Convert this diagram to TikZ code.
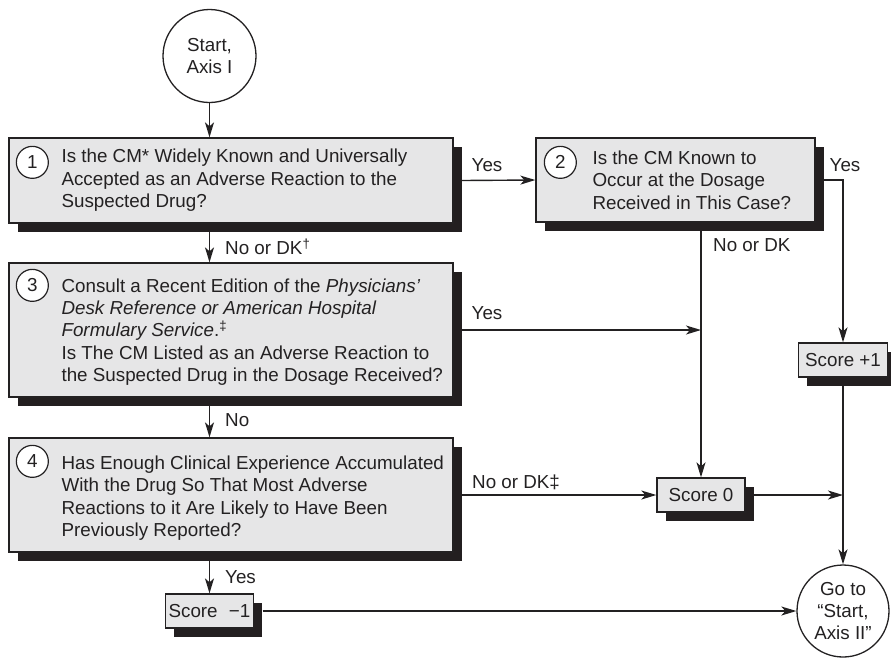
\documentclass[tikz,border=0pt]{standalone}
\usepackage{fontspec}
\setmainfont{Liberation Sans}
\usetikzlibrary{arrows.meta,shadows,calc}
\definecolor{ink}{RGB}{35,33,34}
\definecolor{boxfill}{RGB}{230,230,231}
\definecolor{shade}{RGB}{35,31,32}

\begin{document}
\begin{tikzpicture}[x=1pt,y=-1pt,
  txt/.style={font=\fontsize{18.8}{22.4}\selectfont, text=ink},
  qbox/.style={draw=ink, line width=1.3pt, fill=boxfill, inner sep=0pt,
    drop shadow={shadow xshift=8.5pt, shadow yshift=-8.5pt, fill=shade, opacity=1}},
  scorebox/.style={qbox, txt, minimum width=88pt, minimum height=34pt},
  qtext/.style={txt, align=left, inner sep=0pt, anchor=west},
  numc/.style={circle, draw=ink, line width=1.2pt, fill=white, txt,
    minimum size=32pt, inner sep=0pt},
  term/.style={circle, draw=ink, line width=1.3pt, fill=white, txt,
    align=center, minimum size=93pt, inner sep=0pt},
  lbl/.style={txt, inner sep=0pt},
  conn/.style={draw=ink, line width=1.4pt,
    -{Stealth[length=15pt, width=9pt, inset=4pt]}},
]
\useasboundingbox (0,0) rectangle (891,657);

% terminals
\node[term] (start) at (209.5,56) {Start,\\Axis I};
\node[term, minimum size=92pt] (goto) at (843,611) {Go to\\“Start,\\Axis II”};

% question boxes
\node[qbox, minimum width=444pt, minimum height=85pt] (b1) at (231,180.5) {};
\node[qbox, minimum width=279pt, minimum height=84pt] (b2) at (675.5,180) {};
\node[qbox, minimum width=444pt, minimum height=134pt] (b3) at (231,330) {};
\node[qbox, minimum width=444pt, minimum height=114pt] (b4) at (231,495) {};

\node[numc] (n1) at ($(b1.north west)+(24,25)$) {1};
\node[numc] (n2) at ($(b2.north west)+(25,25)$) {2};
\node[numc] (n3) at ($(b3.north west)+(24,23)$) {3};
\node[numc] (n4) at ($(b4.north west)+(24,24)$) {4};

\node[qtext] (t1) at ($(b1.west)+(53,0)$)
  {Is the CM* Widely Known and Universally\\
   Accepted as an Adverse Reaction to the\\
   Suspected Drug?};
\node[qtext] (t2) at ($(b2.west)+(57,0)$)
  {Is the CM Known to\\
   Occur at the Dosage\\
   Received in This Case?};
\node[qtext] (t3) at ($(b3.west)+(53,2)$)
  {Consult a Recent Edition of the \textit{Physicians’}\\
   \textit{Desk Reference or American Hospital}\\
   \textit{Formulary Service}.\textsuperscript{‡}\\
   Is The CM Listed as an Adverse Reaction to\\
   the Suspected Drug in the Dosage Received?};
\node[qtext] (t4) at ($(b4.west)+(53,3)$)
  {Has Enough Clinical Experience Accumulated\\
   With the Drug So That Most Adverse\\
   Reactions to it Are Likely to Have Been\\
   Previously Reported?};

% score boxes
\node[scorebox] (s0) at (701,495) {Score 0};
\node[scorebox, minimum width=89pt] (sp1) at (843,360) {Score +1};
\node[scorebox] (sm1) at (209.5,611) {Score\hspace{0.6em}−1};

% connectors
\draw[conn] (start.south) -- (start.south |- b1.north);
\draw[conn] ($(b1.east)+(8.5,0)$) -- (b2.west);
\draw[conn] ($(b1.south -| start.south)+(0,8.5)$) -- (b3.north -| start.south);
\draw[conn] ($(b2.south -| s0.north)+(0,8.5)$) -- (s0.north);
\draw[conn] ($(b2.east)+(8.5,0)$) -| (sp1.north);
\draw[conn] ($(b3.east)+(8.5,0)$) -- (b3.east -| s0.north);
\draw[conn] ($(b3.south -| start.south)+(0,8.5)$) -- (b4.north -| start.south);
\draw[conn] ($(b4.east)+(8.5,0)$) -- (s0.west);
\draw[conn] ($(s0.east)+(8.5,0)$) -- (s0.east -| goto.north);
\draw[conn] ($(sp1.south -| goto.north)+(0,8.5)$) -- (goto.north);
\draw[conn] ($(b4.south -| start.south)+(0,8.5)$) -- (sm1.north -| start.south);
\draw[conn] ($(sm1.east)+(8.5,0)$) -- (goto.west);

% branch labels
\node[lbl] (ly1) at (487,165) {Yes};
\node[lbl] (ly2) at (845,165) {Yes};
\node[lbl, anchor=west] (ln2) at (713,245) {No or DK};
\node[lbl, anchor=west] (ln1) at (225,247) {No or DK\textsuperscript{†}};
\node[lbl] (ly3) at (487,313) {Yes};
\node[lbl, anchor=west] (ln3) at (225,420) {No};
\node[lbl, anchor=west] (ln4) at (472,482) {No or DK‡};
\node[lbl, anchor=west] (ly4) at (225,577) {Yes};
\end{tikzpicture}
\end{document}
